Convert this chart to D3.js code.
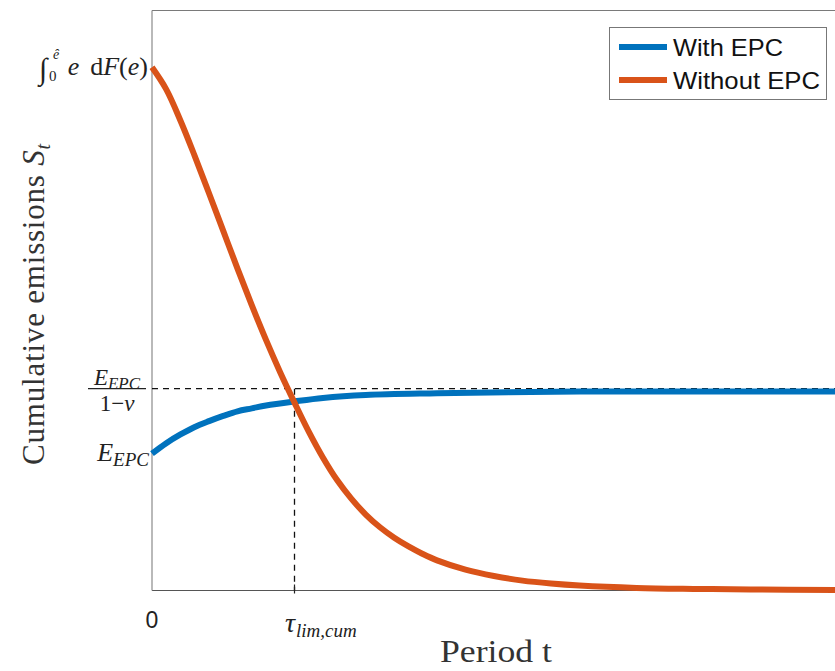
<!DOCTYPE html>
<html><head><meta charset="utf-8">
<script src="https://cdn.jsdelivr.net/npm/d3@7"></script>
<style>body{margin:0;background:#fff;}svg{display:block;}</style>
</head><body>
<script>
// ---- data ----
const periodsWithout = [0,1,2,3,4,5,6,7,8,9,10,11,12,13,14,15,16,17,18,19,20,22,24,26,28,30,34,38,42,48];
const valuesWithout  = [0.902,0.864,0.810,0.749,0.685,0.620,0.555,0.492,0.432,0.376,0.324,0.274,0.229,0.190,0.158,0.131,0.109,0.091,0.076,0.063,0.052,0.036,0.025,0.017,0.012,0.0085,0.0045,0.0028,0.0018,0.001];
const periodsWith = [0,1,2,3,4,5,6,7,8,10,12,15,20,25,30,48];
const valuesWith  = [0.236,0.254,0.269,0.282,0.292,0.301,0.309,0.314,0.319,0.326,0.332,0.337,0.340,0.342,0.343,0.343];
const seriesNames = ["With EPC","Without EPC"];
const tauLim = 10;          // tau_{lim,cum}
const limitLevel = 0.348;   // E_EPC/(1-nu)
const ePCLevel = 0.236;     // E_EPC
const topLevel = 0.902;     // integral of e dF(e)
const xTickLabels = ["0"];

const W = 835, H = 671;
const M = {left:152, top:10.5, right:836, bottom:590.5};
const svg = d3.select("body").append("svg").attr("width",W).attr("height",H);

const x = d3.scaleLinear().domain([0,48]).range([M.left, M.right]);
const y = d3.scaleLinear().domain([0,1]).range([M.bottom, M.top]);

const serif = "'Liberation Serif','DejaVu Serif',serif";
const sans = "'Liberation Sans',Arial,sans-serif";

// axes box
svg.append("line").attr("x1",M.left).attr("x2",W).attr("y1",M.top).attr("y2",M.top).attr("stroke","#7a7a7a").attr("stroke-width",1);
svg.append("line").attr("x1",M.left).attr("x2",W).attr("y1",M.bottom).attr("y2",M.bottom).attr("stroke","#555").attr("stroke-width",1.2);
svg.append("line").attr("x1",M.left).attr("x2",M.left).attr("y1",M.top).attr("y2",M.bottom).attr("stroke","#8a8a8a").attr("stroke-width",1.2);

// dashed reference lines
svg.append("line").attr("x1",M.left).attr("x2",W).attr("y1",y(limitLevel)).attr("y2",y(limitLevel))
  .attr("stroke","#111").attr("stroke-width",1.3).attr("stroke-dasharray","6,5");
svg.append("line").attr("x1",x(tauLim)).attr("x2",x(tauLim)).attr("y1",y(limitLevel)).attr("y2",M.bottom)
  .attr("stroke","#111").attr("stroke-width",1.3).attr("stroke-dasharray","6,5");
svg.append("line").attr("x1",x(tauLim)).attr("x2",x(tauLim)).attr("y1",M.bottom-6).attr("y2",M.bottom+3).attr("stroke","#222").attr("stroke-width",1.2);

const line = d3.line().x(d=>x(d[0])).y(d=>y(d[1])).curve(d3.curveCatmullRom.alpha(0.5));
const g = svg.append("g");
g.append("path").datum(periodsWith.map((p,i)=>[p,valuesWith[i]])).attr("d",line)
  .attr("fill","none").attr("stroke","#0072BD").attr("stroke-width",6);
g.append("path").datum(periodsWithout.map((p,i)=>[p,valuesWithout[i]])).attr("d",line)
  .attr("fill","none").attr("stroke","#D95319").attr("stroke-width",6);

// x tick labels
svg.append("text").attr("x",x(0)).attr("y",628).attr("text-anchor","middle").attr("font-family",sans).attr("font-size",23).attr("fill","#222").text(xTickLabels[0]);
const tau = svg.append("text").attr("x",285).attr("y",632).attr("font-family",serif).attr("font-size",28).attr("fill","#222");
tau.append("tspan").attr("font-style","italic").text("τ");
tau.append("tspan").attr("font-style","italic").attr("font-size",19).attr("dy",5).attr("dx",1).text("lim,cum");

// y tick labels
const ty = y(topLevel)+8;
const t1 = svg.append("g").attr("font-family",serif).attr("fill","#222");
t1.append("text").attr("x",39).attr("y",ty+4).attr("font-size",30).text("∫");
t1.append("text").attr("x",49).attr("y",ty+6).attr("font-size",15).text("0");
t1.append("text").attr("x",53).attr("y",ty-16).attr("font-size",14).attr("font-style","italic").text("ê");
const t1b = t1.append("text").attr("x",148).attr("y",ty).attr("text-anchor","end").attr("font-size",26);
t1b.append("tspan").attr("font-style","italic").text("e");
t1b.append("tspan").attr("dx",11).text("d");
t1b.append("tspan").attr("font-style","italic").text("F");
t1b.append("tspan").text("(");
t1b.append("tspan").attr("font-style","italic").text("e");
t1b.append("tspan").text(")");

// fraction E_EPC/(1-nu)
const fy = y(limitLevel);
const num = svg.append("text").attr("x",117).attr("y",fy-4).attr("text-anchor","middle").attr("font-family",serif).attr("font-size",23).attr("fill","#222");
num.append("tspan").attr("font-style","italic").text("E");
num.append("tspan").attr("font-style","italic").attr("font-size",17).attr("dy",4).text("EPC");
svg.append("line").attr("x1",88).attr("x2",146).attr("y1",fy).attr("y2",fy).attr("stroke","#222").attr("stroke-width",1.2);
const den = svg.append("text").attr("x",117).attr("y",fy+22).attr("text-anchor","middle").attr("font-family",serif).attr("font-size",23).attr("fill","#222");
den.append("tspan").text("1−");
den.append("tspan").attr("font-style","italic").text("ν");

const e2 = svg.append("text").attr("x",149).attr("y",y(ePCLevel)+7).attr("text-anchor","end").attr("font-family",serif).attr("font-size",26).attr("fill","#222");
e2.append("tspan").attr("font-style","italic").text("E");
e2.append("tspan").attr("font-style","italic").attr("font-size",19).attr("dy",5).text("EPC");

// axis titles
svg.append("text").attr("x",440).attr("y",662).attr("font-family",serif).attr("font-size",31)
  .attr("textLength",112).attr("lengthAdjust","spacingAndGlyphs").attr("fill","#333").text("Period t");
const yl = svg.append("text").attr("transform","translate(44,304) rotate(-90)").attr("text-anchor","middle").attr("font-family",serif).attr("font-size",31).attr("letter-spacing",0.8).attr("fill","#333");
yl.append("tspan").text("Cumulative emissions ");
yl.append("tspan").attr("font-style","italic").text("S");
yl.append("tspan").attr("font-style","italic").attr("font-size",20).attr("dy",6).text("t");

// legend
const lg = svg.append("g");
lg.append("rect").attr("x",609.5).attr("y",27.5).attr("width",217).attr("height",72).attr("fill","#fff").attr("stroke","#777").attr("stroke-width",1);
const colors = ["#0072BD","#D95319"];
const legLen = [110,147];
seriesNames.forEach((n,i)=>{
  const yy = 47 + i*33;
  lg.append("line").attr("x1",619).attr("x2",667).attr("y1",yy).attr("y2",yy).attr("stroke",colors[i]).attr("stroke-width",6);
  lg.append("text").attr("x",673).attr("y",yy+9).attr("font-family",sans).attr("font-size",24)
    .attr("textLength",legLen[i]).attr("lengthAdjust","spacingAndGlyphs").attr("fill","#111").text(n);
});
</script>
</body></html>
